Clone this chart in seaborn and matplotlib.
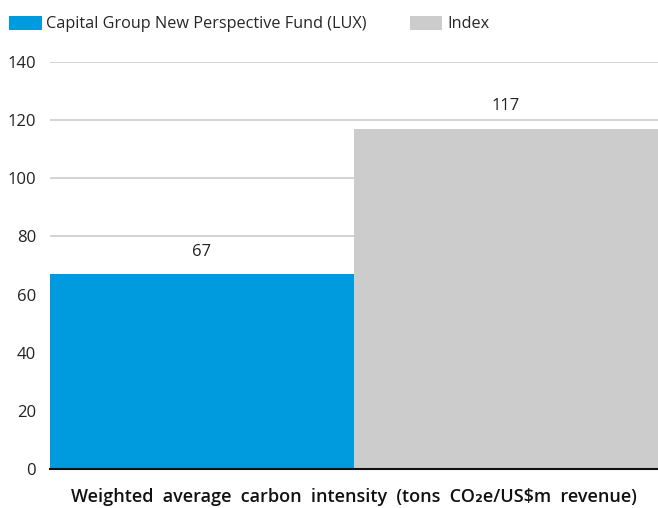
import matplotlib
matplotlib.use("Agg")
import matplotlib.pyplot as plt
import seaborn as sns
import pandas as pd
from matplotlib.patches import Patch

series = ["Capital Group New Perspective Fund (LUX)", "Index"]
values = [67, 117]
colors = ["#009ADE", "#CCCCCC"]
yticks = [0, 20, 40, 60, 80, 100, 120, 140]
xlabel = "Weighted  average  carbon  intensity  (tons  CO\u2082e/US$m  revenue)"

sns.set_theme(style="white")
plt.rcParams['font.family'] = ['Open Sans', 'DejaVu Sans']

df = pd.DataFrame({"series": series, "value": values})

fig = plt.figure(figsize=(6.58, 5.08), dpi=100)
ax = fig.add_axes([50/658, 39/508, 608/658, 407/508])

sns.barplot(data=df, x="series", y="value", hue="series", palette=colors,
            width=1.0, dodge=False, legend=False, ax=ax, saturation=1,
            linewidth=0, edgecolor="none")

ax.set_xlim(-0.5, 1.5)
ax.set_ylim(0, 140)
ax.set_yticks(yticks)
ax.set_yticklabels([str(t) for t in yticks], fontsize=12, color="#222222")
ax.set_xticks([])
ax.set_xlabel(xlabel, fontsize=13, fontweight="semibold", color="#111111", labelpad=14)
ax.set_ylabel("")
ax.grid(axis="y", color="#CCCCCC", linewidth=1.2)
ax.set_axisbelow(True)
for s in ["top", "right", "left"]:
    ax.spines[s].set_visible(False)
ax.spines["bottom"].set_color("#111111")
ax.spines["bottom"].set_linewidth(1.5)
ax.tick_params(axis="y", length=0, pad=10)

for i, v in enumerate(values):
    ax.text(i, v + 5, str(v), ha="center", va="bottom", fontsize=12, color="#222222")

handles = [Patch(facecolor=c, edgecolor="none") for c in colors]
fig.legend(handles, series, loc="upper left", bbox_to_anchor=(-0.006, 0.995),
           ncol=2, frameon=False, fontsize=11.7, handlelength=2.0, handleheight=1.0,
           handletextpad=0.3, columnspacing=2.65, borderaxespad=0.4)

fig.savefig("out.png", dpi=100)
